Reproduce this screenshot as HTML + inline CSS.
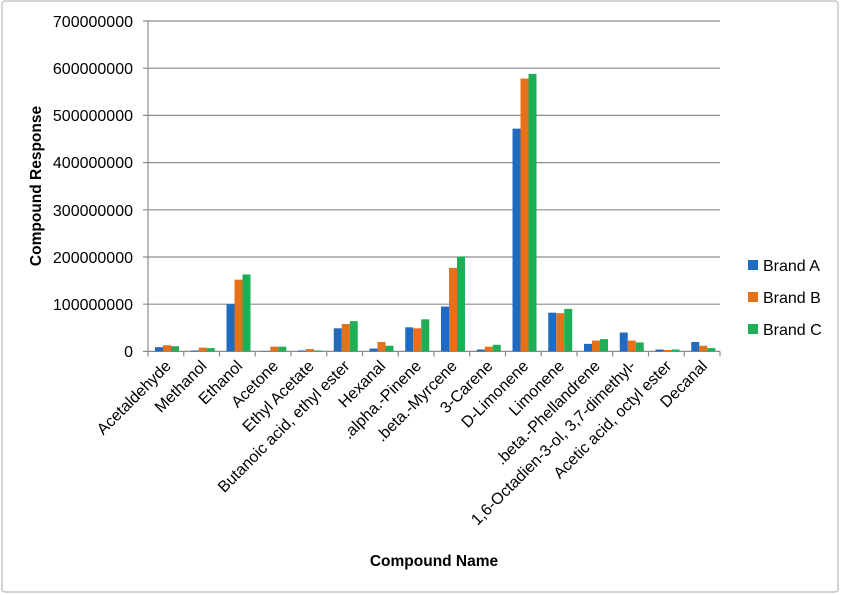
<!DOCTYPE html>
<html><head><meta charset="utf-8"><style>
html,body{margin:0;padding:0;background:#fff;width:841px;height:595px;overflow:hidden}
svg{display:block;font-family:"Liberation Sans","DejaVu Sans",sans-serif}
</style></head><body>
<svg width="841" height="595" viewBox="0 0 841 595" xmlns="http://www.w3.org/2000/svg">
<rect x="2" y="1" width="836" height="591" rx="3" fill="#fff" stroke="#b8b8b8" stroke-width="1.2"/>
<g stroke="#8c8c8c" stroke-width="1.2">
<line x1="143" y1="21" x2="720" y2="21"/>
<line x1="143" y1="68.2" x2="720" y2="68.2"/>
<line x1="143" y1="115.4" x2="720" y2="115.4"/>
<line x1="143" y1="162.6" x2="720" y2="162.6"/>
<line x1="143" y1="209.8" x2="720" y2="209.8"/>
<line x1="143" y1="257" x2="720" y2="257"/>
<line x1="143" y1="304.2" x2="720" y2="304.2"/>
<line x1="143" y1="351.4" x2="720" y2="351.4"/>
<line x1="148" y1="21" x2="148" y2="351.4"/>
</g>
<g font-size="16" fill="#000" text-anchor="end">
<text x="133" y="27">700000000</text>
<text x="133" y="74">600000000</text>
<text x="133" y="121">500000000</text>
<text x="133" y="168">400000000</text>
<text x="133" y="216">300000000</text>
<text x="133" y="263">200000000</text>
<text x="133" y="310">100000000</text>
<text x="133" y="357">0</text>
</g>
<g id="bars"></g>
<g id="ticks" stroke="#8c8c8c" stroke-width="1.2"></g>
<g id="labels" font-size="16" fill="#000" text-anchor="end"></g>
<text transform="translate(41,186) rotate(-90)" font-size="15.5" font-weight="bold" text-anchor="middle">Compound Response</text>
<text x="434" y="566" font-size="15.5" font-weight="bold" text-anchor="middle">Compound Name</text>
<rect x="748" y="260" width="10" height="10" fill="#1F6BC2"/>
<text x="763" y="271" font-size="16">Brand A</text>
<rect x="748" y="292" width="10" height="10" fill="#E5711A"/>
<text x="763" y="303" font-size="16">Brand B</text>
<rect x="748" y="324" width="10" height="10" fill="#1EAE55"/>
<text x="763" y="335" font-size="16">Brand C</text>
<script>
var names=["Acetaldehyde","Methanol","Ethanol","Acetone","Ethyl Acetate","Butanoic acid, ethyl ester","Hexanal",".alpha.-Pinene",".beta.-Myrcene","3-Carene","D-Limonene","Limonene",".beta.-Phellandrene","1,6-Octadien-3-ol, 3,7-dimethyl-","Acetic acid, octyl ester","Decanal"];
var v=[[9,13,11],[2,8,7],[100,152,163],[1,10,10],[2,5,2],[49,58,64],[6,20,12],[51,49,68],[95,177,201],[4,10,14],[472,578,588],[82,81,90],[16,23,26],[40,23,19],[4,3,4],[20,12,7]];
var cols=["#1F6BC2","#E5711A","#1EAE55"];
var NS="http://www.w3.org/2000/svg";
var bars=document.getElementById("bars"),ticks=document.getElementById("ticks"),labels=document.getElementById("labels");
var x0=148,w=35.75,y0=351.4,k=0.472;
for(var i=0;i<16;i++){
 var cx=x0+i*w;
 for(var j=0;j<3;j++){
  var h=v[i][j]*k,r=document.createElementNS(NS,"rect");
  r.setAttribute("x",cx+7+j*8);r.setAttribute("y",y0-h);r.setAttribute("width",8);r.setAttribute("height",h);r.setAttribute("fill",cols[j]);bars.appendChild(r);
 }
 var l=document.createElementNS(NS,"line");
 l.setAttribute("x1",cx);l.setAttribute("x2",cx);l.setAttribute("y1",y0);l.setAttribute("y2",y0+5);ticks.appendChild(l);
 var t=document.createElementNS(NS,"text");
 var tx=cx+w/2+6,ty=367;
 t.setAttribute("x",tx);t.setAttribute("y",ty);t.setAttribute("transform","rotate(-45 "+tx+" "+ty+")");t.textContent=names[i];labels.appendChild(t);
}
var l2=document.createElementNS(NS,"line");l2.setAttribute("x1",720);l2.setAttribute("x2",720);l2.setAttribute("y1",y0);l2.setAttribute("y2",y0+5);ticks.appendChild(l2);
</script>
</svg>
</body></html>
